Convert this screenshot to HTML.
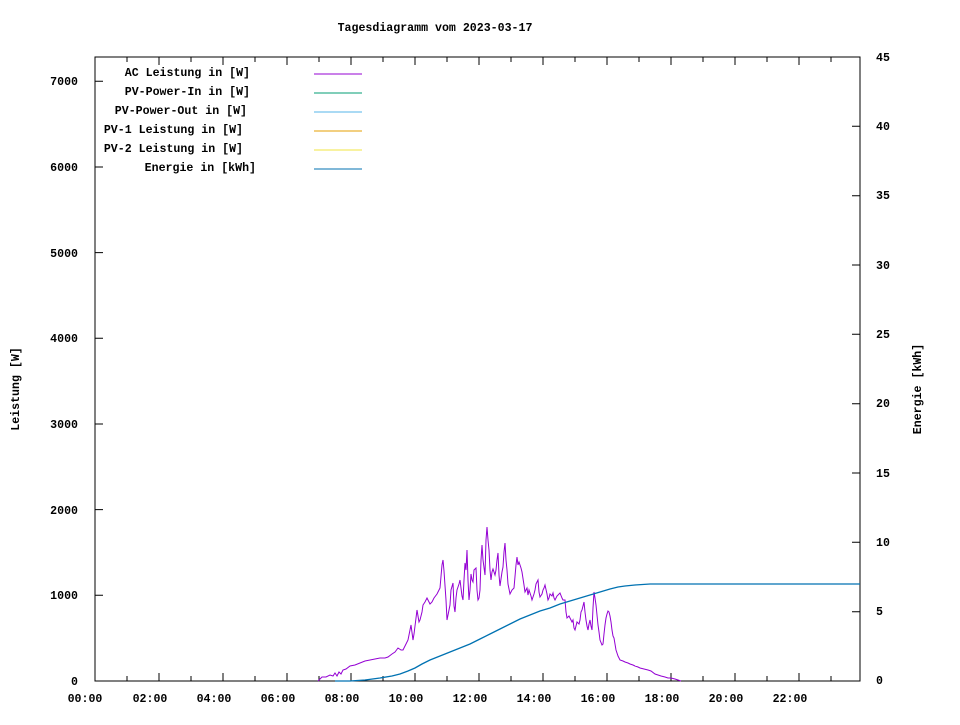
<!DOCTYPE html><html><head><meta charset="utf-8"><style>body{margin:0;background:#fff}svg text{font-family:"Liberation Mono",monospace;font-size:11.6px;font-weight:bold;fill:#000}</style></head><body>
<svg width="960" height="720" xmlns="http://www.w3.org/2000/svg">
<rect width="960" height="720" fill="#fff"/>
<text x="435" y="31" text-anchor="middle">Tagesdiagramm vom 2023-03-17</text>
<rect x="95" y="57" width="765" height="624" fill="none" stroke="#000" stroke-width="1"/>
<g stroke="#000" stroke-width="1">
<path d="M95 595.3h8M95 509.6h8M95 424h8M95 338.3h8M95 252.6h8M95 167h8M95 81.3h8"/>
<path d="M860 611.7h-8M860 542.3h-8M860 473h-8M860 403.7h-8M860 334.3h-8M860 265h-8M860 195.7h-8M860 126.3h-8"/>
<path d="M127 681v-5M159 681v-8M191 681v-5M223 681v-8M255 681v-5M287 681v-8M319 681v-5M351 681v-8M383 681v-5M415 681v-8M447 681v-5M479 681v-8M511 681v-5M543 681v-8M575 681v-5M607 681v-8M639 681v-5M671 681v-8M703 681v-5M735 681v-8M767 681v-5M799 681v-8M831 681v-5"/>
<path d="M127 57v5M159 57v8M191 57v5M223 57v8M255 57v5M287 57v8M319 57v5M351 57v8M383 57v5M415 57v8M447 57v5M479 57v8M511 57v5M543 57v8M575 57v5M607 57v8M639 57v5M671 57v8M703 57v5M735 57v8M767 57v5M799 57v8M831 57v5"/>
</g>
<g text-anchor="end">
<text x="78" y="685">0</text><text x="78" y="599">1000</text><text x="78" y="514">2000</text><text x="78" y="428">3000</text><text x="78" y="342">4000</text><text x="78" y="257">5000</text><text x="78" y="171">6000</text><text x="78" y="85">7000</text>
</g>
<g>
<text x="876" y="684">0</text><text x="876" y="615">5</text><text x="876" y="546">10</text><text x="876" y="477">15</text><text x="876" y="407">20</text><text x="876" y="338">25</text><text x="876" y="269">30</text><text x="876" y="199">35</text><text x="876" y="130">40</text><text x="876" y="61">45</text>
</g>
<g text-anchor="middle">
<text x="85" y="702">00:00</text><text x="150" y="702">02:00</text><text x="214" y="702">04:00</text><text x="278" y="702">06:00</text><text x="342" y="702">08:00</text><text x="406" y="702">10:00</text><text x="470" y="702">12:00</text><text x="534" y="702">14:00</text><text x="598" y="702">16:00</text><text x="662" y="702">18:00</text><text x="726" y="702">20:00</text><text x="790" y="702">22:00</text>
</g>
<text transform="translate(19,389) rotate(-90)" text-anchor="middle">Leistung [W]</text>
<text transform="translate(921,389) rotate(-90)" text-anchor="middle">Energie [kWh]</text>
<g text-anchor="end">
<text x="250" y="76">AC Leistung in [W]</text>
<text x="250" y="95">PV-Power-In in [W]</text>
<text x="247" y="114">PV-Power-Out in [W]</text>
<text x="243" y="133">PV-1 Leistung in [W]</text>
<text x="243" y="152">PV-2 Leistung in [W]</text>
<text x="256" y="171">Energie in [kWh]</text>
</g>
<g stroke-width="1">
<path d="M314 74h48" stroke="#9400d3"/><path d="M314 93h48" stroke="#009e73"/><path d="M314 112h48" stroke="#56b4e9"/><path d="M314 131h48" stroke="#e69f00"/><path d="M314 150h48" stroke="#f0e442"/><path d="M314 169h48" stroke="#0072b2"/>
</g>
<polyline fill="none" stroke="#9400d3" stroke-width="1" points="318,681 322,677 326,677 330,675 333,676 335,673 337,676 339,672 341,674 343,670 346,669 350,666 355,665 360,663 365,661 370,660 375,659 380,658 385,658 388,657 392,654 395,652 398,648 401,650 403,650 406,644 408,640 410,630 411,625 413,640 414,634 416,618 417,610 419,622 420,620 422,612 423,605 425,602 427,598 430,604 432,602 434,598 437,594 439,590 440,588 442,565 443,560 444,571 446,600 447,620 449,610 450,605 451,590 453,583 454,606 455,612 456,598 457,590 459,584 460,580 462,596 463,600 464,580 465,563 466,570 467,550 468,580 469,600 470,590 471,574 472,580 473,582 474,570 476,568 477,590 478,600 479,598 480,590 481,560 482,545 483,560 485,575 486,540 487,527 488,540 489,550 490,570 491,580 492,572 493,569 495,575 496,570 497,560 498,553 499,575 500,586 502,572 503,567 504,552 505,543 506,560 507,570 508,584 510,594 512,590 514,588 516,565 517,557 518,565 519,562 521,568 522,572 524,585 525,592 526,590 527,588 528,595 529,590 531,596 532,600 534,594 535,590 536,584 538,580 539,592 540,597 542,594 543,590 544,588 545,585 547,594 548,600 549,598 550,594 552,596 553,593 554,598 555,600 557,596 560,593 562,598 563,600 565,600 566,612 567,618 569,616 570,618 572,622 573,620 574,628 575,630 576,626 577,622 579,624 580,620 581,612 582,610 583,606 584,602 585,612 586,620 587,626 588,630 589,624 590,620 591,626 592,630 593,608 594,592 595,598 596,605 597,615 598,625 599,632 600,640 602,645 603,644 604,634 605,625 606,618 607,614 608,611 609,612 610,616 611,622 612,630 613,636 614,638 615,644 616,650 618,656 620,660 623,661 625,662 628,663 630,664 633,665 635,666 638,667 640,668 644,669 648,670 651,671 655,674 658,675 661,676 665,677 668,678 671,678 675,679 678,680 681,681"/>
<polyline fill="none" stroke="#0072b2" stroke-width="1.3" points="335,681 350,681 365,680 380,678 392,676 400,674 408,671 415,668 422,664 430,660 440,656 450,652 460,648 470,644 480,639 490,634 500,629 510,624 520,619 530,615 540,611 550,608 560,604 570,601 580,598 590,595 600,592 610,589 618,587 625,586 635,585 650,584 860,584"/>
</svg>
</body></html>
